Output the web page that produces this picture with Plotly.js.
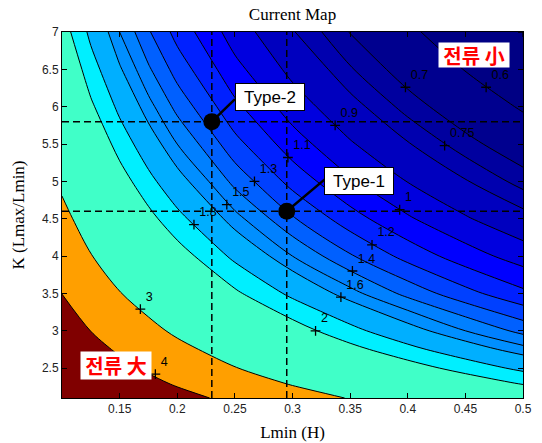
<!DOCTYPE html>
<html><head><meta charset="utf-8">
<script src="https://cdn.plot.ly/plotly-3.0.1.min.js"></script>
<style>html,body{margin:0;padding:0;background:#fff}#chart{width:542px;height:443px}</style>
</head><body><div id="chart"></div>
<script>
// Lmin (H) grid columns
const lminValues = [0.1, 0.125, 0.15, 0.175, 0.2, 0.25, 0.3, 0.35, 0.4, 0.45, 0.5];
// K = Lmax/Lmin grid rows
const kValues = [2.1, 2.3, 2.5, 2.75, 3, 3.5, 4, 4.5, 5, 5.5, 6, 6.5, 7];
// current values (rows follow kValues, columns follow lminValues)
const currentGrid = [
  [6.211, 5.599, 5.096, 4.677, 4.321, 3.750, 3.313, 2.967, 2.686, 2.454, 2.259],
  [5.753, 5.138, 4.642, 4.233, 3.890, 3.348, 2.939, 2.619, 2.361, 2.150, 1.973],
  [5.358, 4.748, 4.262, 3.866, 3.538, 3.024, 2.641, 2.344, 2.107, 1.913, 1.752],
  [4.935, 4.336, 3.866, 3.489, 3.178, 2.698, 2.344, 2.072, 1.856, 1.681, 1.537],
  [4.574, 3.990, 3.538, 3.178, 2.885, 2.435, 2.107, 1.856, 1.659, 1.4998, 1.368],
  [3.990, 3.441, 3.024, 2.698, 2.435, 2.038, 1.752, 1.537, 1.368, 1.233, 1.123],
  [3.538, 3.024, 2.641, 2.344, 2.107, 1.752, 1.4998, 1.311, 1.164, 1.047, 0.952],
  [3.178, 2.698, 2.344, 2.072, 1.856, 1.537, 1.311, 1.143, 1.013, 0.910, 0.826],
  [2.885, 2.435, 2.107, 1.856, 1.659, 1.368, 1.164, 1.013, 0.897, 0.805, 0.729],
  [2.641, 2.219, 1.913, 1.681, 1.4998, 1.233, 1.047, 0.910, 0.805, 0.721, 0.653],
  [2.435, 2.038, 1.752, 1.537, 1.368, 1.123, 0.952, 0.826, 0.729, 0.653, 0.591],
  [2.259, 1.884, 1.616, 1.415, 1.258, 1.030, 0.872, 0.756, 0.667, 0.597, 0.540],
  [2.107, 1.752, 1.4998, 1.311, 1.164, 0.952, 0.805, 0.697, 0.615, 0.550, 0.497]
];
// contour levels and the jet colour of the band above each level
const contourLevels = [0.6, 0.7, 0.75, 0.8, 0.9, 1.0, 1.1, 1.2, 1.3, 1.4, 1.5, 1.6, 1.8, 2, 3, 4];
const bandColors = ['rgb(0,0,143)', 'rgb(0,0,159)', 'rgb(0,0,175)', 'rgb(0,0,191)', 'rgb(0,0,223)',
  'rgb(0,0,255)', 'rgb(0,32,255)', 'rgb(0,64,255)', 'rgb(0,96,255)', 'rgb(0,128,255)',
  'rgb(0,143,255)', 'rgb(0,175,255)', 'rgb(0,239,255)', 'rgb(64,255,200)', 'rgb(255,159,0)', 'rgb(128,0,0)'];
const lowestColor = 'rgb(0,0,132)';
// contour label positions
const labelLmin = [0.398, 0.468, 0.337, 0.432, 0.296, 0.267, 0.243, 0.393, 0.2145, 0.369, 0.352, 0.342, 0.320, 0.168, 0.181, 0.5];
const labelK    = [6.26, 6.26, 5.75, 5.48, 5.32, 5.0, 4.69, 4.62, 4.42, 4.15, 3.80, 3.45, 3.0, 3.29, 2.42, 7.0];
const labelText = ['0.7', '0.6', '0.9', '0.75', '1.1', '1.3', '1.5', '1', '1.8', '1.2', '1.4', '1.6', '2', '3', '4', ''];
// design points
const typeNames = ['Type-1', 'Type-2'];
const typeLmin = [0.295, 0.23];
const typeK = [4.6, 5.8];
// ticks
const xTicks = [0.15, 0.2, 0.25, 0.3, 0.35, 0.4, 0.45, 0.5];
const xTickText = ['0.15', '0.2', '0.25', '0.3', '0.35', '0.4', '0.45', '0.5'];
const yTicks = [2.5, 3, 3.5, 4, 4.5, 5, 5.5, 6, 6.5, 7];
const yTickText = ['2.5', '3', '3.5', '4', '4.5', '5', '5.5', '6', '6.5', '7'];

const traces = contourLevels.map((v, i) => ({
  type: 'contour',
  x: lminValues, y: kValues, z: currentGrid,
  contours: {type: 'constraint', operation: '<', value: v},
  fillcolor: bandColors[i],
  line: {color: 'black', width: 1, smoothing: 0.9},
  showlegend: false, hoverinfo: 'skip'
}));

traces.push({
  type: 'scatter', mode: 'markers+text',
  x: labelLmin, y: labelK, text: labelText,
  textposition: 'top right',
  textfont: {family: 'Liberation Sans, Arial', size: 12.5, color: '#000'},
  marker: {symbol: 'cross-thin', size: 7, line: {color: 'black', width: 1.3}},
  showlegend: false, hoverinfo: 'skip', cliponaxis: true
});

traces.push({
  type: 'scatter', mode: 'markers',
  x: typeLmin, y: typeK,
  marker: {symbol: 'circle', size: 17, color: 'black'},
  showlegend: false, hoverinfo: 'skip'
});

const dash = '7px,4px';
const shapes = [];
typeLmin.forEach(v => shapes.push({type: 'line', xref: 'x', yref: 'paper', x0: v, x1: v, y0: 0, y1: 1,
  line: {color: 'black', width: 1.5, dash: dash}}));
typeK.forEach(v => shapes.push({type: 'line', xref: 'paper', yref: 'y', x0: 0, x1: 1, y0: v, y1: v,
  line: {color: 'black', width: 1.5, dash: dash}}));
// connectors from design points to their text boxes
const boxLeft = [[0.3282, 5.030], [0.2501, 6.102]];
typeLmin.forEach((v, i) => shapes.push({type: 'line', xref: 'x', yref: 'y', x0: v, y0: typeK[i],
  x1: boxLeft[i][0], y1: boxLeft[i][1], line: {color: 'black', width: 2.5}}));

const boxCenter = [[0.3577, 5.009], [0.2805, 6.129]];
const annotations = typeNames.map((t, i) => ({
  x: boxCenter[i][0], y: boxCenter[i][1], xref: 'x', yref: 'y', text: t, showarrow: false,
  font: {family: 'Liberation Sans, Arial', size: 17, color: 'black'},
  bgcolor: 'white', bordercolor: 'black', borderwidth: 1, borderpad: 3,
  width: 62, height: 20, xanchor: 'center', yanchor: 'middle'
}));
annotations.push({x: 0.4575, y: 6.69, xref: 'x', yref: 'y', text: '<b>전류 小</b>', showarrow: false,
  font: {family: 'Noto Sans CJK KR', size: 20, color: 'rgb(255,0,0)'},
  bgcolor: 'white', borderpad: 1, width: 68, height: 22, xanchor: 'center', yanchor: 'middle'});
annotations.push({x: 0.1465, y: 2.53, xref: 'x', yref: 'y', text: '<b>전류 大</b>', showarrow: false,
  font: {family: 'Noto Sans CJK KR', size: 20, color: 'rgb(255,0,0)'},
  bgcolor: 'white', borderpad: 1, width: 68, height: 25, xanchor: 'center', yanchor: 'middle'});

const axisCommon = {
  showline: true, linecolor: 'black', linewidth: 1, mirror: 'ticks',
  ticks: 'inside', ticklen: 5, tickcolor: 'black', showgrid: false, zeroline: false,
  tickfont: {family: 'Liberation Sans, Arial', size: 12, color: '#222'}
};

const layout = {
  width: 542, height: 443,
  margin: {l: 62, r: 19, t: 32, b: 45},
  paper_bgcolor: 'white', plot_bgcolor: lowestColor,
  title: {text: 'Current Map', font: {family: 'Liberation Serif, Times New Roman', size: 17, color: 'black'},
    x: 0.5, xref: 'paper', xanchor: 'center', y: 1 - 14 / 443, yref: 'container', yanchor: 'middle'},
  xaxis: Object.assign({}, axisCommon, {range: [0.1, 0.5], tickvals: xTicks, ticktext: xTickText,
    title: {text: 'Lmin (H)', font: {family: 'Liberation Serif, Times New Roman', size: 17, color: 'black'}, standoff: 10}}),
  yaxis: Object.assign({}, axisCommon, {range: [2.1, 7], tickvals: yTicks, ticktext: yTickText,
    title: {text: 'K (Lmax/Lmin)', font: {family: 'Liberation Serif, Times New Roman', size: 17, color: 'black'}, standoff: 12}}),
  shapes: shapes,
  annotations: annotations
};

Plotly.newPlot('chart', traces, layout, {displayModeBar: false, staticPlot: true});
</script>
</body></html>
